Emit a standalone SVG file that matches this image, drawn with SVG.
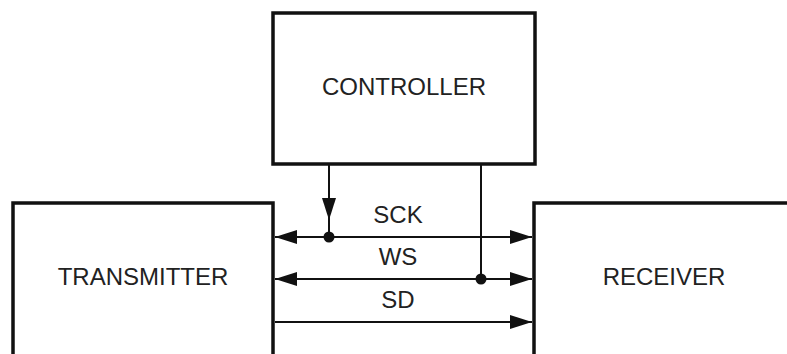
<svg xmlns="http://www.w3.org/2000/svg" width="787" height="354" viewBox="0 0 787 354">
<style>
.box{fill:#fff;stroke:#111;stroke-width:3.5}
.lbl{font-family:"Liberation Sans",Arial,sans-serif;font-size:24px;fill:#222;text-anchor:middle}
.wire{stroke:#111;stroke-width:2;fill:none}
.dot{fill:#111}
</style>
<defs>
<marker id="arr" markerUnits="userSpaceOnUse" markerWidth="23" markerHeight="15" refX="22" refY="7" orient="auto-start-reverse" viewBox="0 0 23 15">
<path d="M0,0 L22,7 L0,14 z" fill="#111"/>
</marker>
</defs>
<rect width="787" height="354" fill="#fff"/>
<g id="controller">
<rect class="box" x="273" y="13" width="262" height="151"/>
<text class="lbl" x="404" y="95">CONTROLLER</text>
</g>
<g id="transmitter">
<rect class="box" x="13" y="203" width="260" height="170"/>
<text class="lbl" x="143" y="285">TRANSMITTER</text>
</g>
<g id="receiver">
<rect class="box" x="534" y="203" width="270" height="170"/>
<text class="lbl" x="664" y="285">RECEIVER</text>
</g>
<g id="connectors">
<line class="wire" x1="275" y1="237" x2="532" y2="237" marker-start="url(#arr)" marker-end="url(#arr)"/>
<line class="wire" x1="275" y1="279" x2="532" y2="279" marker-start="url(#arr)" marker-end="url(#arr)"/>
<line class="wire" x1="275" y1="322" x2="532" y2="322" marker-end="url(#arr)"/>
<line class="wire" x1="329" y1="165" x2="329" y2="220" marker-end="url(#arr)"/>
<line class="wire" x1="329" y1="218" x2="329" y2="237"/>
<line class="wire" x1="481" y1="165" x2="481" y2="279"/>
<circle class="dot" cx="329" cy="237" r="5.5"/>
<circle class="dot" cx="481" cy="279" r="5.5"/>
<text class="lbl" x="398" y="223">SCK</text>
<text class="lbl" x="398" y="265">WS</text>
<text class="lbl" x="398" y="308">SD</text>
</g>
</svg>
